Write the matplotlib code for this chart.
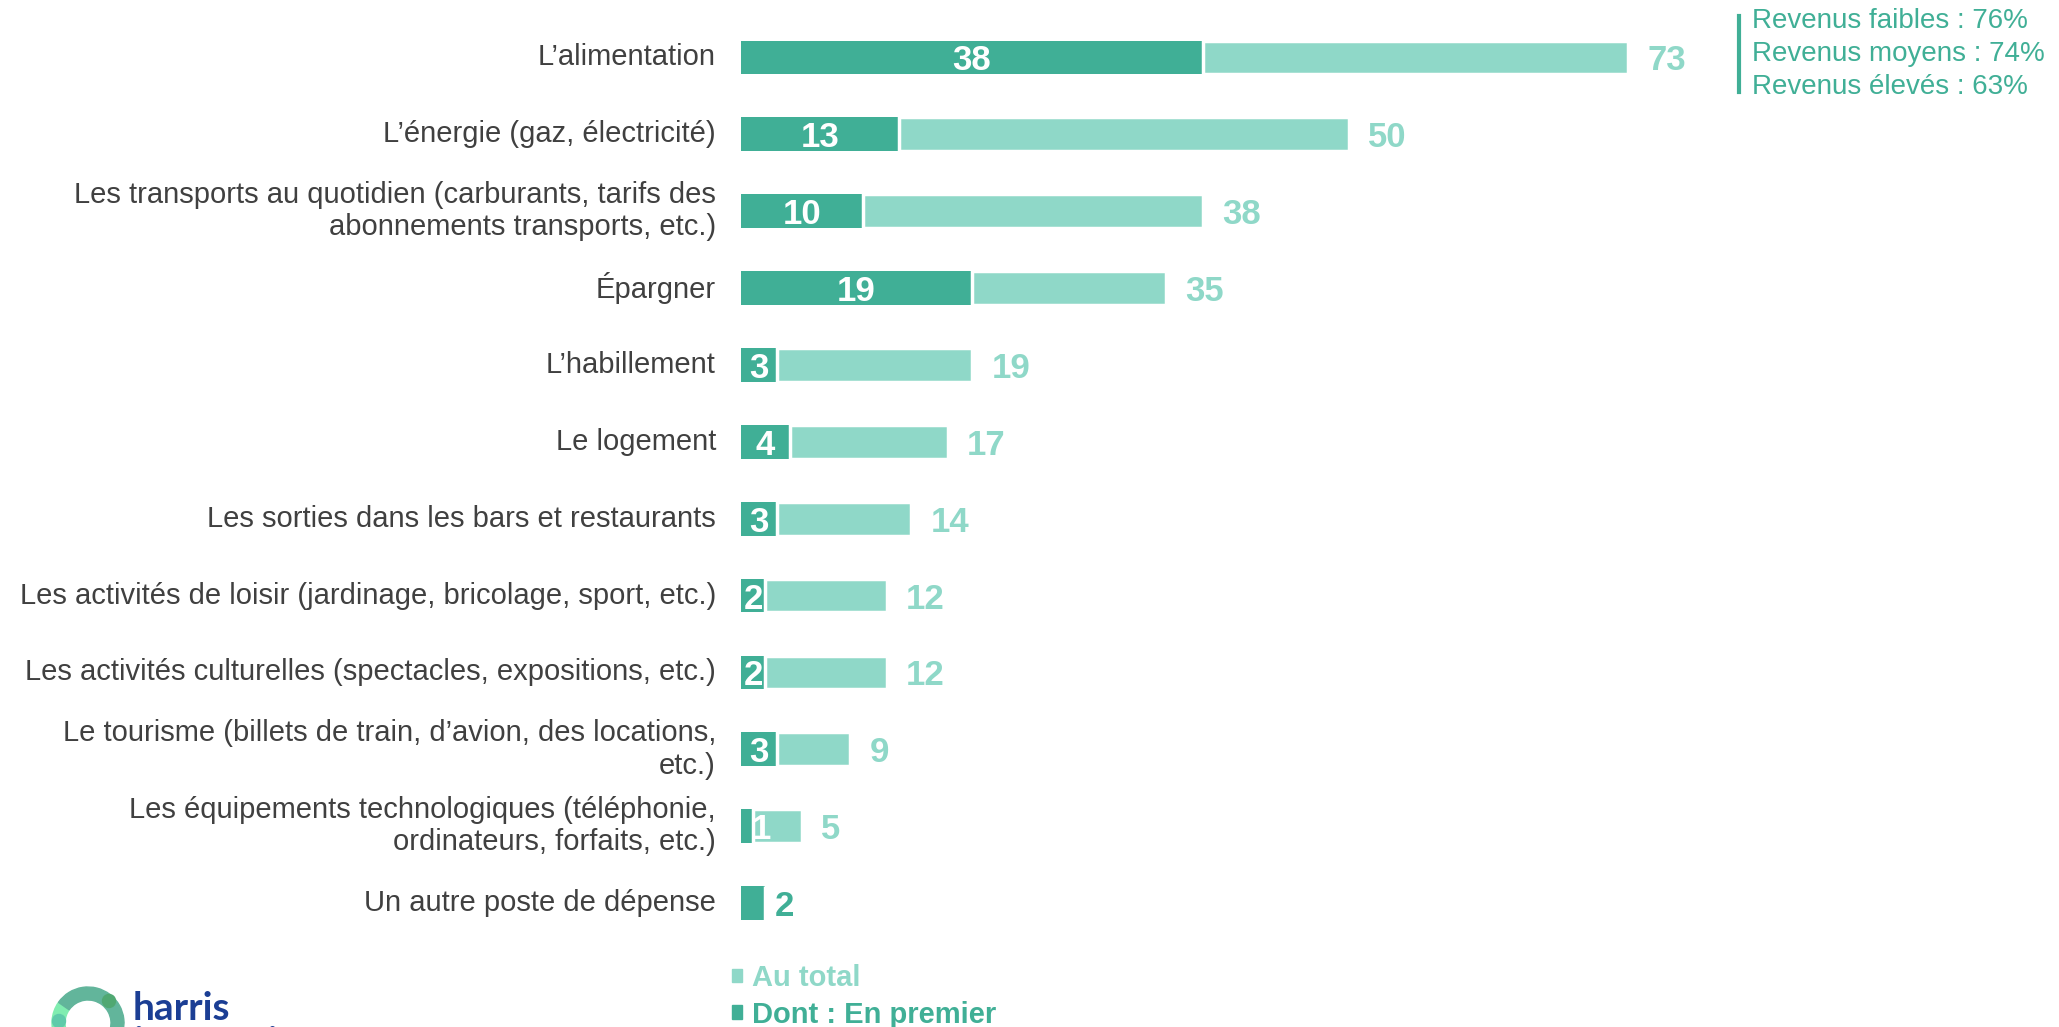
import matplotlib
matplotlib.use('Agg')
import matplotlib.pyplot as plt
from matplotlib.patches import Patch, Wedge, Circle

# --- data ---
categories = [
    "L\u2019alimentation",
    "L\u2019\u00e9nergie (gaz, \u00e9lectricit\u00e9)",
    "Les transports au quotidien (carburants, tarifs des\nabonnements transports, etc.)",
    "\u00c9pargner",
    "L\u2019habillement",
    "Le logement",
    "Les sorties dans les bars et restaurants",
    "Les activit\u00e9s de loisir (jardinage, bricolage, sport, etc.)",
    "Les activit\u00e9s culturelles (spectacles, expositions, etc.)",
    "Le tourisme (billets de train, d\u2019avion, des locations,\netc.)",
    "Les \u00e9quipements technologiques (t\u00e9l\u00e9phonie,\nordinateurs, forfaits, etc.)",
    "Un autre poste de d\u00e9pense",
]
au_total = [73, 50, 38, 35, 19, 17, 14, 12, 12, 9, 5, 2]
en_premier = [38, 13, 10, 19, 3, 4, 3, 2, 2, 3, 1, 2]
revenus = ["Revenus faibles : 76%", "Revenus moyens : 74%", "Revenus \u00e9lev\u00e9s : 63%"]
legend_labels = ["Au total", "Dont : En premier"]

DARK = "#40AF96"
LIGHT = "#8FD8C8"
GREY = "#404040"
NAVY = "#1B3E94"

plt.rcParams['font.family'] = ['Liberation Sans', 'DejaVu Sans']

W, H = 2059, 1027
fig = plt.figure(figsize=(W / 100, H / 100), dpi=100)

# main axes: bars start at x=741px, rows centred 57..903px
left, right = 741, 741 + 80 * 12.15
top, bottom = 19, 941.5
ax = fig.add_axes([left / W, 1 - bottom / H, (right - left) / W, (bottom - top) / H])

y = list(range(len(categories)))
rest = [t - p for t, p in zip(au_total, en_premier)]
bh = 0.44

ax.barh(y, en_premier, height=bh, color=DARK, edgecolor='none')
ax.barh(y, rest, left=en_premier, height=bh, color=LIGHT, edgecolor='white', linewidth=2.5)

ax.set_xlim(0, 80)
ax.set_ylim(len(categories) - 0.5, -0.5)
ax.axis('off')

for i, (t, p) in enumerate(zip(au_total, en_premier)):
    if t == p:
        # only one segment: value shown outside in the dark colour
        ax.annotate(str(t), (t, i), xytext=(7, 0), textcoords='offset points',
                    ha='left', va='center_baseline', fontsize=25, fontweight='bold', color=DARK)
        continue
    xl = p / 2 if p >= 2 else p + 0.7
    ax.text(xl, i, str(p), ha='center', va='center_baseline', fontsize=25,
            fontweight='bold', color='white')
    ax.annotate(str(t), (t, i), xytext=(14, 0), textcoords='offset points',
                ha='left', va='center_baseline', fontsize=25, fontweight='bold', color=LIGHT)

# category labels
for i, cat in enumerate(categories):
    ax.annotate(cat, (0, i), xytext=(-18, 0), textcoords='offset points',
                ha='right', va='center', fontsize=21, color=GREY,
                multialignment='right', linespacing=1.2)

# revenue note, top right
fig.add_artist(plt.Line2D([1739 / W, 1739 / W], [1 - 16 / H, 1 - 92 / H],
                          color=DARK, linewidth=3))
for k, txt in enumerate(revenus):
    fig.text(1752 / W, 1 - (21 + 33 * k) / H, txt, ha='left', va='center',
             fontsize=20, color=DARK)

# legend
handles = [Patch(color=LIGHT), Patch(color=DARK)]
leg = fig.legend(handles, legend_labels, loc='upper left',
                 bbox_to_anchor=(732 / W, 1 - 964 / H), frameon=False,
                 handlelength=0.35, handleheight=0.35, handletextpad=0.35,
                 labelspacing=0.3, borderaxespad=0, borderpad=0,
                 prop={'size': 21, 'weight': 'bold'})
for txt, col in zip(leg.get_texts(), [LIGHT, DARK]):
    txt.set_color(col)

# logo, cut off at the bottom edge
lax = fig.add_axes([0, 0, 320 / W, 67 / H])
lax.set_xlim(0, 320)
lax.set_ylim(1027, 960)
lax.axis('off')
cx, cy, r = 88, 1023, 36
lax.add_patch(Wedge((cx, cy), r, 90, 215, width=13, color="#80EDB0"))
lax.add_patch(Wedge((cx, cy), r, 40, 90, width=13, color="#7FE3AE"))
lax.add_patch(Wedge((cx, cy), r, 215, 400, width=13, color="#62B59B"))
lax.add_patch(Circle((cx + 21, cy - 22), 6.5, color="#50A872"))
lax.add_patch(Circle((cx - 29, cy - 2), 6.5, color="#5FCBAA"))
lax.text(133, 1020, "harris", ha='left', va='baseline', fontsize=28,
         fontweight='bold', color=NAVY, family=['Lato', 'DejaVu Sans'])
lax.text(133, 1055, "interactive", ha='left', va='baseline', fontsize=28,
         fontweight='bold', color=NAVY, family=['Lato', 'DejaVu Sans'])

fig.savefig('out.png', dpi=100)
